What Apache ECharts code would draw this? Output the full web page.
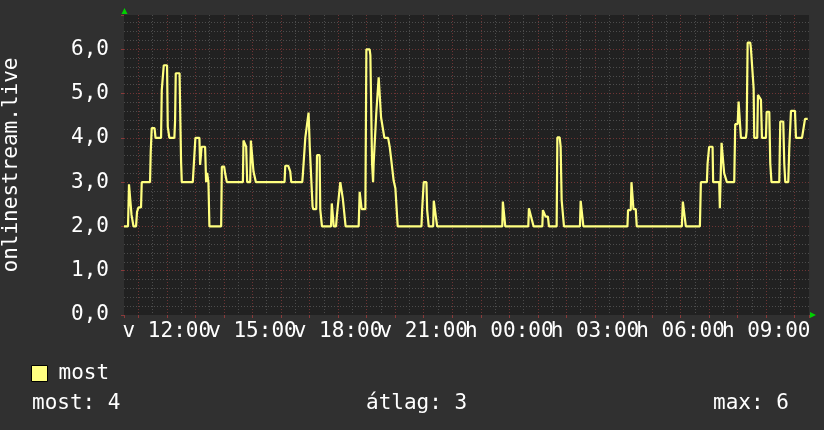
<!DOCTYPE html>
<html><head><meta charset="utf-8">
<script src="https://cdn.jsdelivr.net/npm/echarts@6/dist/echarts.min.js"></script>
<style>html,body{margin:0;padding:0;background:#303030;}#c{width:824px;height:430px;}</style>
</head><body><div id="c"></div>
<script>
const seriesName = 'most';
const yTitle = 'onlinestream.live';
// minutes elapsed since the left edge of the graph (v 10:30)
const minutes = [0,8.4,10.5,13.7,15.8,17.9,20.0,25.3,27.4,29.5,
30.5,35.8,37.3,54.7,56.2,58.3,64.2,66.3,77.9,79.4,
82.1,83.6,90.5,92.0,95.4,105.9,107.4,108.8,116.8,118.5,
120.0,121.5,144.6,146.3,148.4,150.1,158.5,160.0,163.2,170.5,
172.6,174.7,177.5,179.6,204.2,205.7,210.5,212.6,216.2,249.9,
251.2,254.7,256.8,259.0,265.3,266.7,270.1,272.2,277.3,337.5,
339.0,345.3,349.5,351.6,374.7,376.2,379.6,381.1,385.3,388.0,
390.5,394.7,396.4,397.9,404.2,405.7,411.2,412.6,416.2,435.2,
436.8,439.4,441.0,445.7,447.4,451.6,454.7,458.3,460.0,464.2,
465.9,493.3,495.4,498.3,499.6,507.4,509.5,516.4,517.9,520.0,
521.5,523.6,524.8,528.4,530.5,533.3,535.4,538.9,540.4,544.6,
547.4,555.2,558.5,561.1,565.3,566.9,570.5,574.1,575.4,625.3,
626.7,630.1,635.8,637.3,640.6,649.9,651.2,654.7,658.3,795.2,
796.4,800.0,801.5,849.9,851.2,854.8,856.2,859.6,861.1,879.4,
880.6,884.2,886.3,891.2,893.3,909.5,911.0,915.8,917.9,920.0,
922.8,924.9,958.5,960.0,964.2,965.7,1058.3,1059.6,1065.3,1066.8,
1070.1,1071.0,1075.8,1077.9,1172.7,1174.8,1179.0,1181.1,1210.6,1212.7,
1225.3,1226.8,1228.9,1230.1,1237.3,1238.5,1251.2,1252.6,1254.7,1256.2,
1259.6,1261.7,1265.3,1267.4,1282.8,1284.9,1290.0,1292.0,1294.8,1296.9,
1307.4,1308.9,1311.0,1316.5,1317.9,1321.5,1323.6,1324.9,1331.2,1332.7,
1336.9,1339.0,1341.1,1349.5,1351.0,1356.5,1358.6,1361.1,1377.5,1379.6,
1385.9,1388.0,1390.1,1396.4,1398.5,1402.1,1410.5,1412.6,1425.3,1428.0,1431.6,1437.3];
const values = [2.0,2.0,2.95,2.95,2.26,2.26,2.0,2.0,2.33,2.33,
2.43,2.43,3.0,3.0,3.69,4.22,4.22,4.0,4.0,5.08,
5.08,5.64,5.64,4.25,4.0,4.0,4.4,5.46,5.46,4.37,
3.46,3.0,3.0,3.31,3.31,4.0,4.0,3.39,3.8,3.8,
3.0,3.21,3.0,2.0,2.0,3.35,3.35,3.2,3.0,3.0,
3.94,3.94,3.8,3.0,3.0,3.94,3.94,3.24,3.0,3.0,
3.37,3.37,3.24,3.0,3.0,3.2,3.2,4.0,4.0,4.57,
3.8,3.8,2.45,2.39,2.39,3.61,3.61,2.38,2.0,2.0,
2.52,2.52,2.0,2.0,2.23,2.23,3.0,3.0,2.63,2.63,
2.0,2.0,2.78,2.78,2.39,2.39,6.0,6.0,5.87,5.87,
3.42,3.0,3.42,3.42,4.59,4.59,5.37,5.37,4.46,4.46,
4.0,4.0,3.8,3.57,3.57,3.03,2.86,2.86,2.0,2.0,
2.37,3.0,3.0,2.37,2.0,2.0,2.58,2.58,2.0,2.0,
2.56,2.56,2.0,2.0,2.41,2.41,2.2,2.2,2.0,2.0,
2.37,2.37,2.22,2.22,2.0,2.0,4.01,4.01,3.8,2.6,
2.6,2.0,2.0,2.58,2.58,2.0,2.0,2.37,2.37,3.0,
3.0,2.39,2.39,2.0,2.0,2.56,2.56,2.0,2.0,3.0,
3.0,3.42,3.42,3.8,3.8,3.0,3.0,2.41,2.41,3.89,
3.89,3.2,3.2,3.0,3.0,4.31,4.31,4.82,4.82,4.0,
4.0,4.17,6.15,6.15,6.02,6.02,5.12,4.0,4.0,4.97,
4.97,4.86,4.0,4.0,4.59,4.59,3.42,3.0,3.0,4.37,
4.37,3.42,3.0,3.0,3.76,4.61,4.61,4.0,4.0,4.18,4.43,4.43];
const tickHours = [12,15,18,21,24,27,30,33];
const tickLabels = ['v 12:00','v 15:00','v 18:00','v 21:00','h 00:00','h 03:00','h 06:00','h 09:00'];
const statNames = ['most','átlag','max'];
const statValues = [4,3,6];

const START_H = 10.5, END_H = 34.5, Y_MAX = 6.775;
const FONT = '"DejaVu Sans Mono", monospace';
const RED = '#6e3434', GRAY = '#4c4c4c', LINE = '#ffff80', TXT = '#ffffff', GREEN = '#00d000';

const data = minutes.map((m, i) => [START_H + m / 60, values[i]]);

const chart = echarts.init(document.getElementById('c'), null, {renderer: 'canvas'});
const statX = [32, 366, 713];
chart.setOption({
  backgroundColor: '#303030',
  animation: false,
  grid: {left: 124, top: 15, width: 685, height: 300, show: true, backgroundColor: '#212121', borderWidth: 0,
         containLabel: false, outerBoundsMode: 'none'},
  legend: {
    left: 31, top: 363, padding: 0, icon: 'rect', itemWidth: 16, itemHeight: 16,
    itemStyle: {borderColor: '#000', borderWidth: 1},
    textStyle: {color: TXT, fontFamily: FONT, fontSize: 21, padding: [0, 0, 0, 6]},
    data: [seriesName]
  },
  xAxis: [{
    type: 'value', min: START_H, max: END_H, splitNumber: 24, z: 3,
    axisLine: {show: false},
    axisTick: {show: true, length: 3, lineStyle: {color: '#8a3a3a'}},
    axisLabel: {
      color: TXT, fontFamily: FONT, fontSize: 21, margin: 6,
      formatter: v => { const i = tickHours.findIndex(h => Math.abs(h - v) < 1e-6); return i >= 0 ? tickLabels[i] : ''; }
    },
    splitLine: {show: true, showMinLine: false, showMaxLine: false, lineStyle: {color: RED, type: [1, 2], width: 1}}
  }, {
    type: 'value', min: START_H, max: END_H, interval: 0.5, z: 2,
    axisLine: {show: false}, axisTick: {show: false}, axisLabel: {show: false},
    splitLine: {show: true, showMinLine: false, showMaxLine: false, lineStyle: {color: GRAY, type: [1, 2], width: 1}}
  }],
  yAxis: [{
    type: 'value', min: 0, max: Y_MAX, interval: 1, z: 3,
    name: yTitle, nameLocation: 'middle', nameRotate: 90, nameGap: 102,
    nameTextStyle: {color: TXT, fontFamily: FONT, fontSize: 21},
    axisLine: {show: false},
    axisTick: {show: true, length: 3, lineStyle: {color: '#8a3a3a'}},
    axisLabel: {
      color: TXT, fontFamily: FONT, fontSize: 21, margin: 15,
      formatter: v => Math.abs(v - Math.round(v)) < 1e-6 ? v.toFixed(1).replace('.', ',') : ''
    },
    splitLine: {show: true, showMinLine: false, showMaxLine: false, lineStyle: {color: RED, type: [1, 2], width: 1}}
  }, {
    type: 'value', min: 0, max: Y_MAX, interval: 0.2, z: 2,
    axisLine: {show: false}, axisTick: {show: false}, axisLabel: {show: false},
    splitLine: {show: true, showMinLine: false, showMaxLine: false, lineStyle: {color: GRAY, type: [1, 2], width: 1}}
  }],
  series: [{
    name: seriesName, type: 'line', xAxisIndex: 0, yAxisIndex: 0, data: data,
    showSymbol: false, symbol: 'none', z: 5,
    itemStyle: {color: LINE},
    lineStyle: {color: LINE, width: 2.2}
  }],
  graphic: [
    {type: 'polygon', shape: {points: [[121.5, 14], [127.5, 14], [124.5, 8]]}, style: {fill: GREEN}, z: 10},
    {type: 'polygon', shape: {points: [[810, 312], [810, 318], [816, 315]]}, style: {fill: GREEN}, z: 10}
  ].concat(statNames.map((n, i) => ({
    type: 'text', x: statX[i], y: 404, z: 10,
    style: {text: n + ': ' + statValues[i], fill: TXT, font: '21px ' + FONT, textVerticalAlign: 'middle'}
  })))
});
</script>
</body></html>
